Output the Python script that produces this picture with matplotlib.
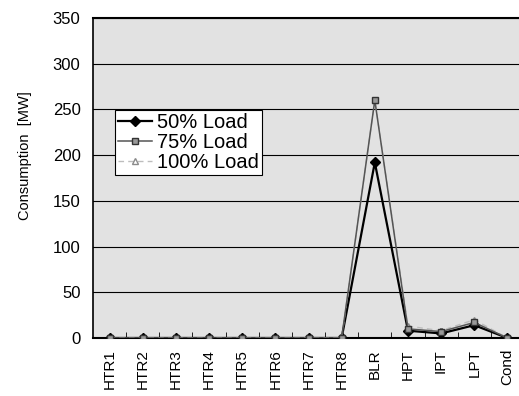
import numpy as np
import matplotlib
matplotlib.use('Agg')
import matplotlib.pyplot as plt

plt.rcParams['font.family'] = ['Liberation Sans', 'DejaVu Sans']

components = ['HTR1', 'HTR2', 'HTR3', 'HTR4', 'HTR5', 'HTR6', 'HTR7', 'HTR8',
              'BLR', 'HPT', 'IPT', 'LPT', 'Cond']
load50 = [0, 0, 0, 0, 0, 0, 0, 0, 192, 8, 5, 14, 0]
load75 = [0, 0, 0, 0, 0, 0, 0, 0, 260, 10, 7, 17, 0]
load100 = [0, 0, 0, 0, 0, 0, 0, 0, 260, 13, 8, 20, 0]

fig = plt.figure(figsize=(5.19, 3.96), dpi=100)
ax = fig.add_axes([93/519, 1-338/396, 431/519, 320/396])
ax.set_facecolor('#e2e2e2')

x = np.arange(len(components))
ax.plot(x, load50, color='black', lw=1.6, marker='D', ms=5,
        mfc='black', mec='black', label='50% Load', zorder=3)
ax.plot(x, load75, color='#555555', lw=1.1, marker='s', ms=5,
        mfc='#999999', mec='#333333', label='75% Load', zorder=5)
ax.plot(x, load100, color='#bdbdbd', lw=1, ls=(0, (4, 3)), marker='^', ms=5,
        mfc='white', mec='#8a8a8a', label='100% Load', zorder=4)

ax.set_xlim(-0.5, len(components) - 0.5)
ax.set_ylim(0, 350)
ax.set_yticks(range(0, 351, 50))
ax.yaxis.grid(True, color='black', lw=0.8)
ax.set_axisbelow(True)

ax.set_xticks(x)
ax.set_xticklabels(components, rotation=90, fontsize=11)
ax.set_xticks(np.arange(0.5, len(components) - 0.5), minor=True)
ax.tick_params(axis='x', which='major', length=0, pad=8)
ax.tick_params(axis='x', which='minor', direction='in', length=4, color='black')
ax.tick_params(axis='y', length=0, pad=9, labelsize=12)

ax.set_ylabel('Consumption  [MW]', fontsize=10.5)
ax.yaxis.set_label_coords(-0.142, 0.569)

for s in ['left', 'bottom', 'top']:
    ax.spines[s].set_color('black')
ax.spines['left'].set_linewidth(1.2)
ax.spines['bottom'].set_linewidth(1.5)
ax.spines['top'].set_linewidth(1.5)
ax.spines['right'].set_visible(False)

leg = ax.legend(loc='upper left', bbox_to_anchor=(0.051, 0.7125),
                borderaxespad=0, fontsize=14.5, frameon=True, fancybox=False,
                handlelength=1.7, handletextpad=0.25, borderpad=0.15,
                labelspacing=0.05, framealpha=1)
leg.get_frame().set_edgecolor('black')
leg.get_frame().set_linewidth(0.8)

fig.savefig('out.png', dpi=100)
